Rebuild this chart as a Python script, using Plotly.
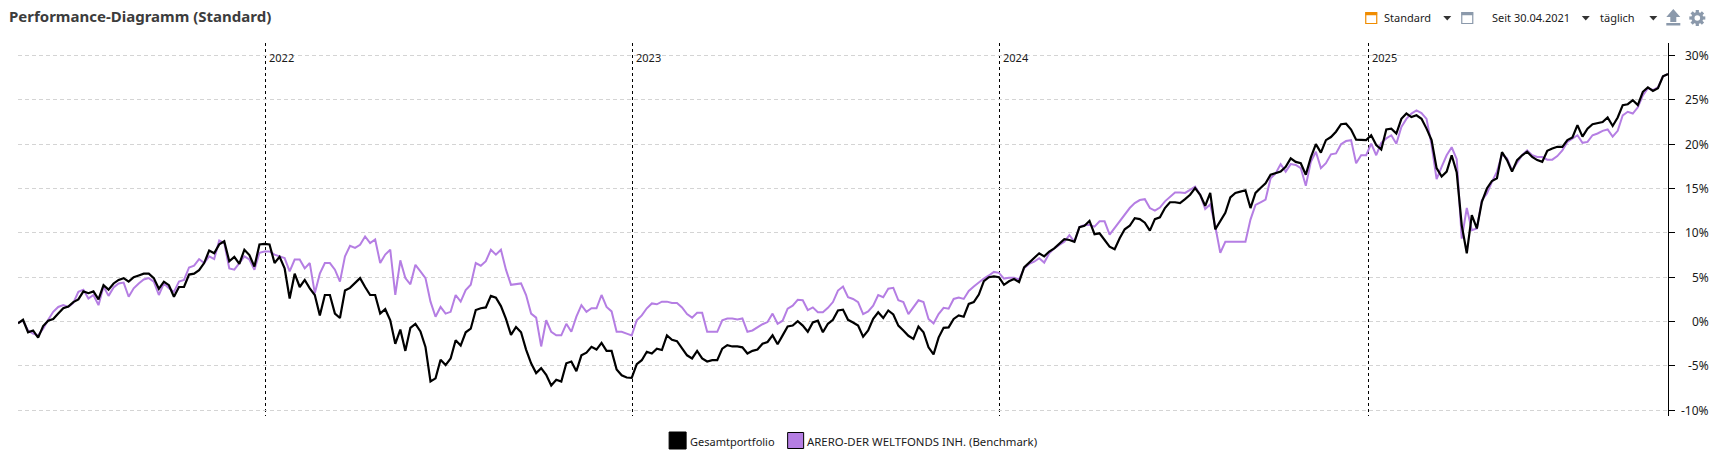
import pandas as pd
import plotly.graph_objects as go

START_DATE = "2021-04-30"
STEP = "5D"
YEARS = ["2022-01-01", "2023-01-01", "2024-01-01", "2025-01-01"]
YEAR_LABELS = ["2022", "2023", "2024", "2025"]
Y_TICKS = [-10, -5, 0, 5, 10, 15, 20, 25, 30]
Y_LABELS = ["-10%", "-5%", "0%", "5%", "10%", "15%", "20%", "25%", "30%"]
NAME_A = "Gesamtportfolio"
NAME_B = "ARERO-DER WELTFONDS INH. (Benchmark)"

portfolio = [
    -0.2, 0.2, -1.2, -1.0, -1.8, -0.5, 0.1, 0.3, 0.9, 1.5,
    1.7, 2.2, 2.5, 3.4, 3.2, 3.4, 2.5, 4.1, 3.6, 4.3,
    4.7, 4.9, 4.5, 5.0, 5.2, 5.4, 5.4, 4.9, 3.7, 4.5,
    4.1, 2.8, 3.9, 3.9, 5.3, 5.4, 5.8, 6.6, 8.0, 7.7,
    8.7, 9.05, 6.8, 7.3, 6.5, 8.1, 7.5, 6.2, 8.7, 8.75,
    8.7, 6.6, 7.3, 6.0, 2.6, 5.4, 3.9, 4.7, 3.75, 3.0,
    0.7, 3.0, 3.0, 0.9, 0.4, 3.5, 3.8, 4.3, 4.9, 3.9,
    3.0, 3.0, 0.9, 1.4, 0.15, -2.5, -0.9, -3.3, -0.7, -0.25,
    -1.1, -2.85, -6.75, -6.4, -4.3, -4.9, -4.15, -2.1, -2.7, -1.2,
    -0.8, 1.3, 1.5, 1.6, 2.9, 2.7, 1.75, 0.3, -1.5, -0.6,
    -1.2, -3.15, -4.7, -5.8, -5.25, -6.0, -7.2, -6.55, -6.75, -4.7,
    -4.5, -5.6, -3.8, -3.5, -2.85, -3.15, -2.4, -3.3, -3.3, -5.4,
    -6.05, -6.3, -6.35, -4.8, -4.35, -3.4, -3.6, -3.05, -3.2, -1.55,
    -2.05, -2.2, -3.05, -3.8, -4.15, -3.3, -4.15, -4.5, -4.35, -4.35,
    -3.05, -2.65, -2.8, -2.8, -2.9, -3.6, -3.3, -3.15, -2.5, -2.3,
    -1.55, -2.55, -1.55, -0.55, -0.45, 0.05, -0.45, -1.15, -0.1, 0.1,
    -1.2, -0.25, 0.2, 1.25, 1.35, 0.2, -0.1, -0.45, -1.7, -1.0,
    0.3, 1.05, 0.4, 1.25, 0.8, -0.45, -1.0, -1.6, -1.95, -0.55,
    -1.2, -2.9, -3.7, -1.8, -0.7, -0.65, 0.3, 0.7, 0.55, 2.0,
    2.2, 3.05, 4.55, 5.0, 5.1, 5.0, 4.15, 4.55, 4.8, 4.45,
    6.1, 6.65, 7.25, 7.7, 7.35, 7.9, 8.25, 8.75, 9.3, 9.2,
    9.0, 10.65, 10.8, 11.35, 9.85, 9.95, 9.2, 8.45, 8.15, 9.4,
    10.4, 10.8, 11.65, 11.55, 11.15, 10.25, 11.55, 11.75, 12.8, 13.45,
    13.45, 13.35, 13.8, 14.3, 15.05, 14.3, 13.05, 14.5, 10.4, 11.3,
    12.25, 14.0, 14.5, 14.65, 14.8, 12.8, 14.5, 15.05, 15.6, 16.55,
    16.7, 16.9, 17.45, 18.4, 18.0, 17.85, 16.55, 18.5, 20.0, 19.05,
    20.45, 20.8, 21.4, 22.25, 22.3, 21.65, 20.5, 20.45, 20.45, 21.0,
    19.9, 19.4, 21.65, 21.75, 21.2, 22.85, 23.45, 23.05, 23.25, 22.85,
    21.75, 20.45, 17.3, 16.35, 16.9, 18.75, 16.8, 10.85, 7.7, 12.0,
    10.5, 13.5, 15.0, 15.85, 16.15, 19.1, 18.2, 16.9, 18.2, 18.75,
    19.15, 18.55, 18.2, 18.0, 19.25, 19.5, 19.7, 19.7, 20.45, 20.75,
    22.15, 20.85, 21.75, 22.25, 22.35, 22.5, 23.0, 22.05, 23.0, 24.4,
    24.5, 24.95, 24.4, 25.9, 26.4, 26.0, 26.3, 27.65, 27.9,
]

benchmark = [
    -0.15, 0.1, -1.0, -1.35, -1.55, -0.8, 0.2, 1.1, 1.65, 1.85,
    1.65, 2.1, 3.35, 3.6, 2.6, 3.0, 1.85, 3.95, 2.9, 3.85,
    4.3, 4.4, 2.8, 3.75, 4.3, 4.75, 4.9, 4.5, 3.0, 4.3,
    3.75, 3.35, 4.5, 4.7, 6.1, 6.3, 7.05, 6.6, 7.35, 7.05,
    9.15, 8.85, 6.0, 5.85, 6.6, 7.35, 7.0, 5.85, 7.75, 7.9,
    7.9, 7.55, 7.35, 7.15, 5.65, 7.0, 7.0, 6.0, 6.6, 3.2,
    5.4, 6.6, 6.6, 5.85, 4.5, 7.35, 8.55, 8.3, 8.65, 9.6,
    8.85, 9.25, 6.6, 7.55, 8.1, 3.0, 6.9, 4.9, 4.2, 6.4,
    5.65, 4.9, 2.25, 0.55, 1.65, 0.9, 1.1, 3.0, 2.25, 3.55,
    4.15, 6.6, 6.3, 6.8, 8.1, 7.55, 8.1, 5.85, 4.15, 4.25,
    4.3, 3.0, 0.9, 0.45, -2.8, 0.15, -1.15, -1.55, -1.55, -0.25,
    -1.15, 0.55, 1.85, 1.1, 1.5, 1.5, 3.0, 1.65, 1.15, -1.15,
    -1.15, -1.35, -1.55, 0.15, 0.7, 1.5, 2.05, 1.95, 2.25, 2.25,
    2.1, 2.1, 1.6, 0.85, 0.45, 1.0, 1.0, -1.15, -1.15, -1.15,
    0.15, 0.35, 0.35, 0.25, 0.35, -1.15, -1.0, -0.6, -0.3, -0.05,
    0.9, -0.25, 0.1, 1.45, 1.8, 2.45, 2.4, 1.3, 1.6, 1.05,
    1.05, 1.55, 2.2, 3.5, 3.95, 2.75, 2.55, 2.2, 0.85, 1.15,
    1.8, 3.0, 2.75, 3.7, 3.8, 2.4, 2.2, 0.85, 1.6, 2.4,
    2.2, 0.3, -0.2, 0.85, 1.55, 1.45, 2.55, 2.7, 2.55, 3.45,
    3.95, 4.45, 4.85, 5.2, 5.6, 5.5, 4.85, 4.95, 4.95, 4.75,
    6.0, 6.5, 6.75, 7.15, 6.65, 7.7, 8.25, 8.65, 9.0, 9.75,
    9.0, 10.65, 10.9, 10.9, 10.7, 11.3, 11.3, 9.8, 10.55, 11.3,
    12.05, 12.8, 13.35, 13.7, 13.8, 12.8, 12.5, 12.85, 13.55, 14.05,
    14.55, 14.55, 14.5, 14.85, 15.2, 14.3, 12.7, 13.2, 10.75, 7.75,
    9.0, 9.0, 9.0, 9.0, 9.0, 11.5, 13.15, 13.45, 13.75, 16.15,
    16.7, 17.75, 16.9, 17.75, 17.65, 17.3, 15.3, 18.0, 19.15, 17.3,
    17.85, 18.85, 18.95, 20.0, 20.35, 20.45, 17.85, 18.75, 18.75, 20.05,
    18.75, 20.15, 20.65, 21.0, 20.05, 21.95, 22.85, 23.45, 23.8, 23.5,
    22.85, 19.9, 16.05, 17.45, 18.75, 19.65, 18.3, 9.35, 12.8, 10.3,
    10.5, 13.7, 14.45, 15.75, 16.9, 18.85, 18.4, 17.05, 17.9, 18.75,
    19.3, 18.75, 18.55, 18.55, 18.25, 18.25, 18.65, 19.3, 20.25, 20.65,
    21.0, 20.15, 20.25, 21.0, 21.2, 21.5, 21.65, 20.85, 21.5, 23.25,
    23.65, 23.45, 24.15, 25.5, 26.3, 26.1, 26.4, 27.65, 27.9,
]

FONT = "Noto Sans"
TXT = "#1a1a1a"
ICON = "#8b99ab"
W, H = 1714, 464
L, R, T, B = 18, 1667.7, 43, 416


def px(x):
    return (x - L) / (R - L)


def py(y):
    return 1 - (y - T) / (B - T)


dates = pd.date_range(START_DATE, periods=len(portfolio), freq=STEP)
dates_b = pd.date_range(START_DATE, periods=len(benchmark), freq=STEP)

fig = go.Figure()
fig.add_trace(go.Scatter(x=dates_b, y=benchmark, name=NAME_B, mode="lines",
                         line=dict(color="#b57ee3", width=2)))
fig.add_trace(go.Scatter(x=dates, y=portfolio, name=NAME_A, mode="lines",
                         line=dict(color="#000000", width=2.2)))


def text(x, y, s, size=11, color=TXT, bold=False, family=FONT, anchor="left"):
    return dict(xref="paper", yref="paper", x=px(x), y=py(y), text=f"<b>{s}</b>" if bold else s,
                showarrow=False, xanchor=anchor, yanchor="middle", xshift=0, yshift=0,
                font=dict(family=family, size=size, color=color))


def tri(xc, yc):
    return dict(type="path", xref="paper", yref="paper", line_width=0, fillcolor="#333333",
                path=f"M {px(xc-4)} {py(yc-2)} L {px(xc+4)} {py(yc-2)} L {px(xc)} {py(yc+2.5)} Z")


def rect(x0, y0, x1, y1, fill="rgba(0,0,0,0)", line="#000000", lw=1):
    return dict(type="rect", xref="paper", yref="paper", x0=px(x0), x1=px(x1), y0=py(y1), y1=py(y0),
                fillcolor=fill, line=dict(color=line, width=lw))


def disc(xc, yc, r, fill):
    return dict(type="circle", xref="paper", yref="paper", x0=px(xc - r), x1=px(xc + r),
                y0=py(yc + r), y1=py(yc - r), fillcolor=fill, line_width=0)


def spoke(xc, yc, dx, dy):
    return dict(type="line", xref="paper", yref="paper", x0=px(xc - dx), x1=px(xc + dx),
                y0=py(yc - dy), y1=py(yc + dy), line=dict(color=ICON, width=3.2))


annotations = [
    text(7, 15.5, "Performance-Diagramm (Standard)", size=15, color="#3c3c3c", bold=True),
    text(1381.5, 18, "Standard"),
    text(1489.5, 18, "Seit 30.04.2021"),
    text(1597.5, 18, "täglich"),
    text(688, 441, NAME_A),
    text(805, 441, NAME_B, size=11.4),
]
for d, lab in zip(YEARS, YEAR_LABELS):
    annotations.append(dict(xref="x", yref="paper", x=d, y=py(57), text=lab, showarrow=False,
                            xanchor="left", yanchor="middle", xshift=1.5,
                            font=dict(family=FONT, size=11, color=TXT)))
for v, lab in zip(Y_TICKS, Y_LABELS):
    annotations.append(dict(xref="paper", yref="y", x=px(1711), y=v, text=lab, showarrow=False,
                            xanchor="right", yanchor="middle",
                            font=dict(family=FONT, size=12, color=TXT)))

GX, GY = 1697, 18
shapes = [
    rect(1365.5, 12.5, 1376.5, 23.5, line="#f08c00", lw=1.2),
    rect(1365.5, 12.5, 1376.5, 15, fill="#f08c00", line="#f08c00", lw=0.5),
    rect(1461.5, 12.5, 1472.5, 23.5, line=ICON, lw=1.2),
    rect(1461.5, 12.5, 1472.5, 15, fill=ICON, line=ICON, lw=0.5),
    tri(1447, 18), tri(1585.5, 18), tri(1653, 18),
    dict(type="path", xref="paper", yref="paper", line_width=0, fillcolor=ICON,
         path=(f"M {px(1673)} {py(9)} L {px(1680)} {py(17)} L {px(1676)} {py(17)} L {px(1676)} {py(22)} "
               f"L {px(1670)} {py(22)} L {px(1670)} {py(17)} L {px(1666)} {py(17)} Z")),
    rect(1666, 23, 1680, 25.5, fill=ICON, line=ICON, lw=0),
    spoke(GX, GY, 8, 0), spoke(GX, GY, 0, 8), spoke(GX, GY, 5.7, 5.7), spoke(GX, GY, 5.7, -5.7),
    disc(GX, GY, 6, ICON), disc(GX, GY, 2.8, "#ffffff"),
    rect(669, 432, 686, 449, fill="#000000", line="#000000"),
    rect(787.5, 432.5, 803.5, 448.5, fill="#b57ee3", line="#000000"),
]

fig.update_layout(
    width=W, height=H, autosize=False,
    margin=dict(l=L, r=W - R, t=T, b=H - B, pad=0),
    paper_bgcolor="white", plot_bgcolor="white",
    showlegend=False, hovermode="x unified",
    font=dict(family=FONT, size=11, color=TXT),
    annotations=annotations, shapes=shapes,
    xaxis=dict(type="date", range=[START_DATE, dates[-1]], tickvals=YEARS, showticklabels=False,
               showgrid=True, gridcolor="#000000", griddash="3px,3px", gridwidth=1,
               ticks="", showline=False, zeroline=False, automargin=False),
    yaxis=dict(side="right", range=[-10.64, 31.4], tickvals=Y_TICKS, showticklabels=False,
               showgrid=True, gridcolor="#d4d4d4", griddash="4px,3px", gridwidth=1, zeroline=False,
               showline=True, linecolor="#000000", linewidth=1, ticks="outside", ticklen=6,
               tickcolor="#000000", automargin=False),
)

fig.write_html("out.html", post_script="document.body.style.margin='0';",
               config={"displayModeBar": False})
